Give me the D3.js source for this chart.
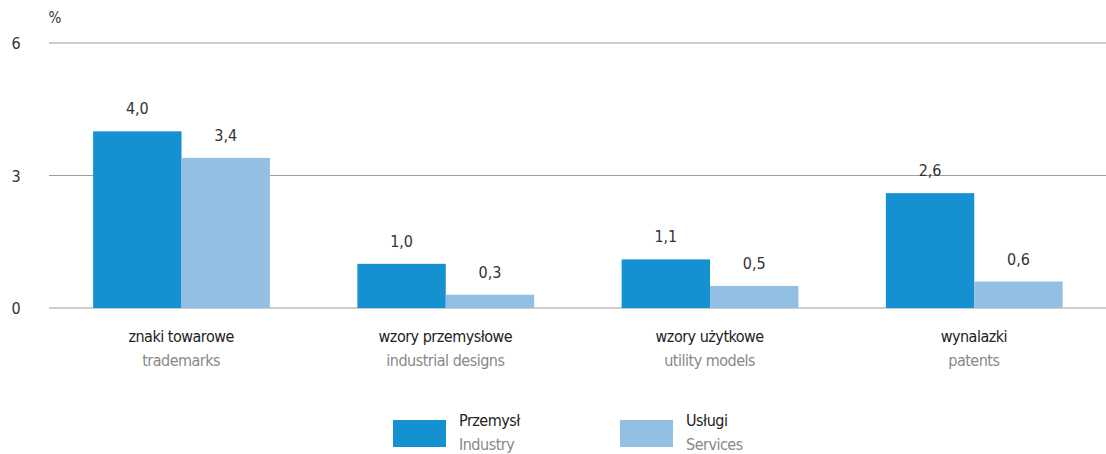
<!DOCTYPE html>
<html>
<head>
<meta charset="utf-8">
<script src="https://cdn.jsdelivr.net/npm/d3@7"></script>
<style>
  html, body { margin: 0; padding: 0; background: #fff; }
  svg { display: block; font-family: "Liberation Sans Narrow", "DejaVu Sans Condensed", "Noto Sans", sans-serif; }
  .lbl { letter-spacing: -0.5px; }
</style>
</head>
<body>
<svg id="chart" width="1106" height="454"></svg>
<script>
// Categories: Polish label and English translation
const categoriesPl = ["znaki towarowe", "wzory przemysłowe", "wzory użytkowe", "wynalazki"];
const categoriesEn = ["trademarks", "industrial designs", "utility models", "patents"];

// Series (percent)
const seriesPl = ["Przemysł", "Usługi"];
const seriesEn = ["Industry", "Services"];
const industryValues = [4.0, 1.0, 1.1, 2.6];
const servicesValues = [3.4, 0.3, 0.5, 0.6];

// Y axis ticks
const yTicks = [0, 3, 6];

const colors = ["#1591d1", "#93bfe3"];
const fmt = v => v.toFixed(1).replace(".", ",");

const svg = d3.select("#chart");
const margin = { left: 49, right: 0, top: 43, bottom: 146 };
const W = 1106, H = 454;
const plotBottom = H - margin.bottom; // 308

const y = d3.scaleLinear().domain([0, 6]).range([plotBottom, margin.top]);
const x0 = d3.scaleBand().domain(d3.range(categoriesPl.length)).range([margin.left, W - margin.right]).padding(0);
const x1 = d3.scaleBand().domain([0, 1]).range([x0.bandwidth() * 0.167, x0.bandwidth() * 0.836]).padding(0);

// gridlines
svg.append("g").selectAll("line").data(yTicks).join("line")
  .attr("x1", margin.left).attr("x2", W)
  .attr("y1", d => y(d)).attr("y2", d => y(d))
  .attr("stroke", "#9e9e9e").attr("stroke-width", 1.2);

// tick labels
svg.append("g").selectAll("text").data(yTicks).join("text")
  .attr("x", 16).attr("y", d => y(d) + 6)
  .attr("text-anchor", "middle")
  .attr("font-size", 16).attr("fill", "#333")
  .text(d => d);

svg.append("text").attr("x", 55).attr("y", 23).attr("text-anchor", "middle")
  .attr("font-size", 15).attr("fill", "#333").text("%");

// bars
const rows = categoriesPl.map((c, i) => [industryValues[i], servicesValues[i]]);
const groups = svg.append("g").selectAll("g").data(rows).join("g")
  .attr("transform", (d, i) => `translate(${x0(i)},0)`);

groups.selectAll("rect").data(d => d).join("rect")
  .attr("x", (d, j) => x1(j))
  .attr("width", x1.bandwidth())
  .attr("y", d => y(d))
  .attr("height", d => plotBottom - y(d))
  .attr("fill", (d, j) => colors[j]);

groups.selectAll("text.val").data(d => d).join("text")
  .attr("class", "val")
  .attr("x", (d, j) => x1(j) + x1.bandwidth() / 2)
  .attr("y", d => y(d) - 17)
  .attr("text-anchor", "middle")
  .attr("font-size", 16).attr("fill", "#333")
  .text(fmt);

// category labels
const cat = svg.append("g").selectAll("g").data(categoriesPl).join("g")
  .attr("transform", (d, i) => `translate(${x0(i) + x0.bandwidth() / 2},0)`);
cat.append("text").attr("class", "lbl").attr("y", 342).attr("text-anchor", "middle")
  .attr("font-size", 16).attr("fill", "#222").text(d => d);
cat.append("text").attr("class", "lbl").attr("y", 366).attr("text-anchor", "middle")
  .attr("font-size", 16).attr("fill", "#888").text((d, i) => categoriesEn[i]);

// legend
const legendX = [393, 620];
const leg = svg.append("g").selectAll("g").data(seriesPl).join("g")
  .attr("transform", (d, i) => `translate(${legendX[i]},0)`);
leg.append("rect").attr("x", 0).attr("y", 420).attr("width", 53).attr("height", 27)
  .attr("fill", (d, i) => colors[i]);
leg.append("text").attr("class", "lbl").attr("x", 66).attr("y", 426).attr("font-size", 16).attr("fill", "#222").text(d => d);
leg.append("text").attr("class", "lbl").attr("x", 66).attr("y", 450).attr("font-size", 16).attr("fill", "#888").text((d, i) => seriesEn[i]);
</script>
</body>
</html>
